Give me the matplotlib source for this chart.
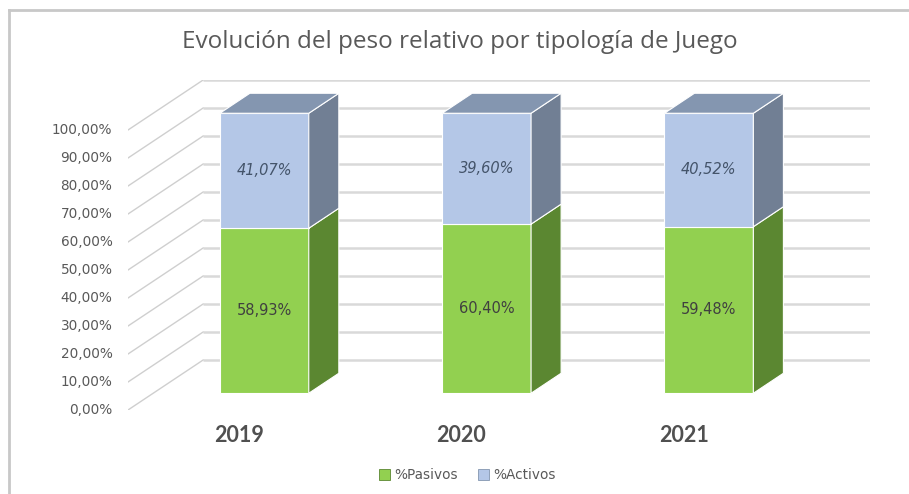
import matplotlib.pyplot as plt
from matplotlib.patches import Polygon
from matplotlib.lines import Line2D
import numpy as np

# data
years = ['2019', '2020', '2021']
pasivos = [58.93, 60.40, 59.48]
activos = [41.07, 39.60, 40.52]
pasivos_lbl = ['58,93%', '60,40%', '59,48%']
activos_lbl = ['41,07%', '39,60%', '40,52%']
yticks = list(range(0, 101, 10))

# fake 3d: depth offsets in data units
DX, DY = 0.338, 17.86
F1, F2 = 0.335, 0.735   # bar front / back depth fraction
BW = 0.40

green_front, green_side = '#92d050', '#5b8731'
blue_front, blue_side, blue_top = '#b4c7e7', '#717f94', '#8496b0'
grid_c = '#d9d9d9'

fig = plt.figure(figsize=(9.09, 4.94), dpi=100)
ax = fig.add_axes([128 / 909, 84 / 494, 742 / 909, 330 / 494])
ax.set_xlim(-0.5, 2.5 + DX)
ax.set_ylim(0, 100 + DY)
ax.axis('off')

# gridlines: slanted side wall + back wall
for v in yticks:
    ax.plot([-0.5, -0.5 + DX], [v, v + DY], color='#cfcfcf', lw=1.0, zorder=1)
    ax.plot([-0.5 + DX, 2.5 + DX], [v + DY, v + DY], color=grid_c, lw=1.8,
            solid_capstyle='butt', zorder=1)
    ax.text(-0.57, v, '{:.2f}%'.format(v).replace('.', ','),
            ha='right', va='center', fontsize=9.8, color='#595959', clip_on=False)


def face(pts, color):
    ax.add_patch(Polygon(pts, closed=True, facecolor=color, edgecolor='white', lw=0.8, zorder=3))


x = np.arange(len(years))
for i in range(len(years)):
    ox, oy = F1 * DX, F1 * DY
    bx, by = F2 * DX, F2 * DY
    l = x[i] - BW / 2
    r = x[i] + BW / 2
    segs = [(0, pasivos[i], green_front, green_side),
            (pasivos[i], pasivos[i] + activos[i], blue_front, blue_side)]
    for y0, y1, fc, sc in segs:
        face([(l + ox, y0 + oy), (r + ox, y0 + oy), (r + ox, y1 + oy), (l + ox, y1 + oy)], fc)
        face([(r + ox, y0 + oy), (r + bx, y0 + by), (r + bx, y1 + by), (r + ox, y1 + oy)], sc)
    top = pasivos[i] + activos[i]
    face([(l + ox, top + oy), (r + ox, top + oy), (r + bx, top + by), (l + bx, top + by)], blue_top)

    ax.text(x[i] + ox, pasivos[i] / 2 + oy, pasivos_lbl[i], ha='center', va='center',
            fontsize=10.5, color='#404040', zorder=5)
    ax.text(x[i] + ox, pasivos[i] + activos[i] / 2 + oy, activos_lbl[i], ha='center',
            va='center', fontsize=10.5, color='#44546a', style='italic', zorder=5)
    ax.text(x[i], -9, years[i], ha='center', va='center', fontsize=15.5,
            fontweight='bold', color='#505050', family='Lato')

fig.text(0.506, 0.915, 'Evolución del peso relativo por tipología de Juego', ha='center',
         va='center', fontsize=17.5, color='#595959', family='Open Sans')

# chart border (top and left only visible)
fig.add_artist(Line2D([9 / 909, 9 / 909], [0, 1 - 10 / 494], color='#c8c8c8', lw=2))
fig.add_artist(Line2D([9 / 909, 1], [1 - 10 / 494, 1 - 10 / 494], color='#c8c8c8', lw=2))

handles = [plt.Rectangle((0, 0), 1, 1, facecolor=green_front, edgecolor='#5b8731', lw=0.6),
           plt.Rectangle((0, 0), 1, 1, facecolor=blue_front, edgecolor='#8496b0', lw=0.6)]
fig.legend(handles, ['%Pasivos', '%Activos'], loc='center', bbox_to_anchor=(0.514, 0.038),
           ncol=2, frameon=False, fontsize=9.8, handlelength=0.8, handleheight=0.8,
           handletextpad=0.3, columnspacing=1.5, labelcolor='#595959')

fig.savefig('out.png', dpi=100)
